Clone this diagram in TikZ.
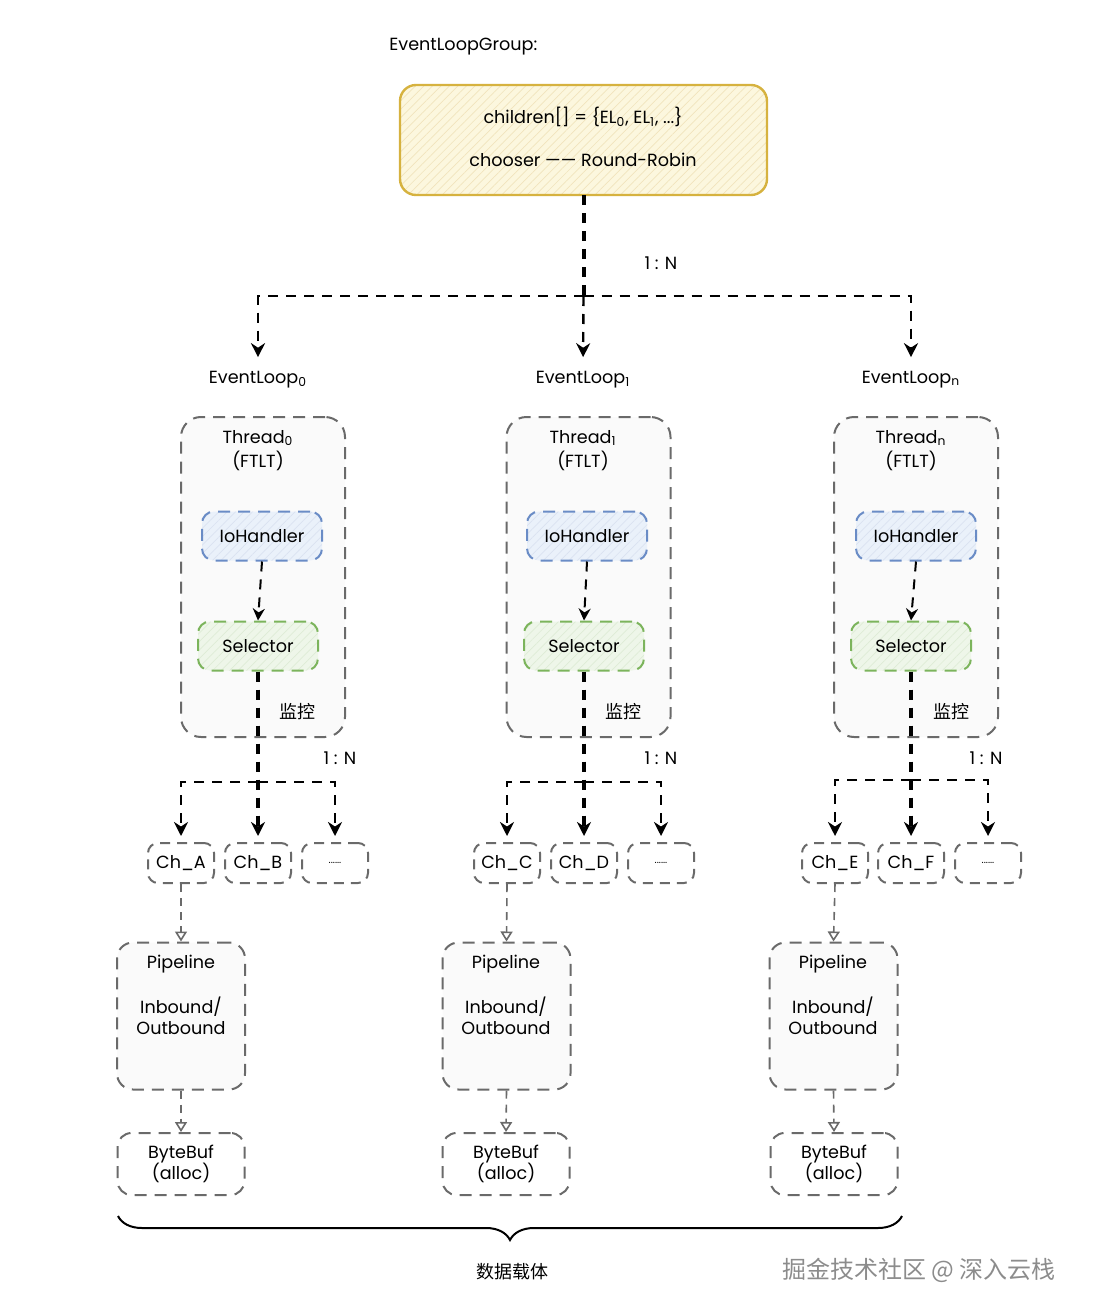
\documentclass[tikz,border=0pt]{standalone}
\usepackage{fontspec}
\setmainfont{Poppins}
\newfontfamily\cjk{Noto Sans CJK SC}
\usetikzlibrary{arrows.meta,decorations.pathreplacing,patterns.meta}

\definecolor{grpline}{HTML}{D6B23F}
\definecolor{grpfill}{HTML}{FCF7DE}
\definecolor{ioline}{HTML}{6A8CC6}
\definecolor{iofill}{HTML}{EAF1FA}
\definecolor{selline}{HTML}{7CB45C}
\definecolor{selfill}{HTML}{EEF6E9}
\definecolor{boxline}{HTML}{6A6A6A}

\tikzset{
  hatch/.style={pattern={Lines[angle=45,distance=3pt,line width=0.35pt]}, pattern color=#1},
  grpbox/.style={draw=grpline, line width=1.2pt, rounded corners=8pt, preaction={fill=grpfill}, hatch=grpline!35,
    minimum width=183.5pt, minimum height=55pt},
  threadbox/.style={draw=boxline, line width=1pt, dash pattern=on 6pt off 4pt, rounded corners=10pt,
    preaction={fill=black!2}, minimum width=82pt, minimum height=160pt},
  iobox/.style={draw=ioline, line width=1pt, dash pattern=on 6pt off 4pt, rounded corners=6pt,
    preaction={fill=iofill}, hatch=ioline!25, minimum width=60pt, minimum height=24.5pt},
  selbox/.style={draw=selline, line width=1pt, dash pattern=on 6pt off 4pt, rounded corners=6pt,
    preaction={fill=selfill}, hatch=selline!25, minimum width=60pt, minimum height=24.5pt},
  chbox/.style={draw=boxline, line width=1pt, dash pattern=on 5pt off 3.5pt, rounded corners=5pt,
    minimum width=33pt, minimum height=20pt},
  pipebox/.style={draw=boxline, line width=1pt, dash pattern=on 6pt off 4pt, rounded corners=8pt,
    preaction={fill=black!2}, minimum width=64pt, minimum height=73.5pt},
  bufbox/.style={draw=boxline, line width=1pt, dash pattern=on 6pt off 4pt, rounded corners=7pt,
    minimum width=63.5pt, minimum height=31pt},
  trunk/.style={draw=black, line width=2pt, dash pattern=on 5pt off 4pt, -{Stealth[length=7pt,width=7pt]}},
  trunkline/.style={draw=black, line width=2pt, dash pattern=on 5pt off 4pt},
  branch/.style={draw=black, line width=1.2pt, dash pattern=on 5pt off 4pt, -{Stealth[length=7pt,width=7pt]}},
  thinarr/.style={draw=black, line width=1pt, dash pattern=on 5pt off 4pt, -{Stealth[length=6pt,width=6pt]}},
  grayarr/.style={draw=boxline, line width=0.8pt, dash pattern=on 4pt off 3pt, -{Triangle[open,length=5pt,width=6pt]}},
  lbl/.style={inner sep=1pt},
  cjklbl/.style={inner sep=1pt, font=\cjk\fontsize{9}{11}\selectfont},
}

\begin{document}
\begin{tikzpicture}[x=0.5pt, y=-0.5pt, font=\fontsize{8.8}{10.5}\selectfont]
  \useasboundingbox (0,0) rectangle (1092,1316);

  % event loop group
  \node[lbl, anchor=west] (grptitle) at (387,47) {EventLoopGroup:};
  \node[grpbox] (grp) at (583.5,140) {};
  \node[lbl] (children) at (583,117) {children[] = \{EL\textsubscript{0}, EL\textsubscript{1}, ...\}};
  \node[lbl] (chooser) at (583,160) {chooser —— Round-Robin};

  % event loops
  \node[lbl] (el0) at (258,380) {EventLoop\textsubscript{0}};
  \node[lbl] (el1) at (583,380) {EventLoop\textsubscript{1}};
  \node[lbl] (eln) at (911,380) {EventLoop\textsubscript{n}};

  \coordinate (fork1) at (grp.south |- 0,296);
  \draw[trunkline] (grp.south) -- (fork1);
  \draw[branch, shorten >=6pt] (fork1) -- (el1.north);
  \draw[branch, shorten >=6pt] (fork1) -| (el0.north);
  \draw[branch, shorten >=6pt] (fork1) -| (eln.north);
  \node[lbl] (ratio1) at (661,263) {1 : N};

  % threads
  \node[threadbox] (th0) at (263,577) {};
  \node[threadbox] (th1) at (588.5,577) {};
  \node[threadbox] (thn) at (916,577) {};

  \node[lbl] (thname0) at (258,438) {Thread\textsubscript{0}};
  \node[lbl] (ftlt0) at (258,461) {(FTLT)};
  \node[lbl] (thname1) at (583,438) {Thread\textsubscript{1}};
  \node[lbl] (ftlt1) at (583,461) {(FTLT)};
  \node[lbl] (thnamen) at (911,438) {Thread\textsubscript{n}};
  \node[lbl] (ftltn) at (911,461) {(FTLT)};

  \node[iobox] (io0) at (262,536) {IoHandler};
  \node[iobox] (io1) at (587,536) {IoHandler};
  \node[iobox] (ion) at (916,536) {IoHandler};

  \node[selbox] (sel0) at (258,646) {Selector};
  \node[selbox] (sel1) at (584,646) {Selector};
  \node[selbox] (seln) at (911,646) {Selector};

  \draw[thinarr] (io0.south) -- (sel0.north);
  \draw[thinarr] (io1.south) -- (sel1.north);
  \draw[thinarr] (ion.south) -- (seln.north);

  \node[cjklbl] (watch0) at (297,712) {监控};
  \node[cjklbl] (watch1) at (623,712) {监控};
  \node[cjklbl] (watchn) at (951,712) {监控};

  % channels
  \node[chbox] (cha) at (181,863) {Ch\_A};
  \node[chbox] (chb) at (258,863) {Ch\_B};
  \node[chbox, font=\fontsize{5}{6}\selectfont] (chx0) at (335,863) {......};
  \node[chbox] (chc) at (507,863) {Ch\_C};
  \node[chbox] (chd) at (584,863) {Ch\_D};
  \node[chbox, font=\fontsize{5}{6}\selectfont] (chx1) at (661,863) {......};
  \node[chbox] (che) at (835,863) {Ch\_E};
  \node[chbox] (chf) at (911,863) {Ch\_F};
  \node[chbox, font=\fontsize{5}{6}\selectfont] (chxn) at (988,863) {......};

  \coordinate (fork2) at (258,782);
  \coordinate (fork3) at (584,782);
  \coordinate (fork4) at (911,780);
  \draw[trunk, shorten >=3pt] (sel0.south) -- (chb.north);
  \draw[branch, shorten >=3pt] (fork2) -| (cha.north);
  \draw[branch, shorten >=3pt] (fork2) -| (chx0.north);
  \draw[trunk, shorten >=3pt] (sel1.south) -- (chd.north);
  \draw[branch, shorten >=3pt] (fork3) -| (chc.north);
  \draw[branch, shorten >=3pt] (fork3) -| (chx1.north);
  \draw[trunk, shorten >=3pt] (seln.south) -- (chf.north);
  \draw[branch, shorten >=3pt] (fork4) -| (che.north);
  \draw[branch, shorten >=3pt] (fork4) -| (chxn.north);

  \node[lbl] (ratio2) at (340,758) {1 : N};
  \node[lbl] (ratio3) at (661,758) {1 : N};
  \node[lbl] (ratio4) at (986,758) {1 : N};

  % pipelines
  \node[pipebox] (pipe0) at (181,1016) {};
  \node[pipebox] (pipe1) at (506.5,1016) {};
  \node[pipebox] (pipen) at (833.5,1016) {};
  \node[lbl] (pname0) at (181,964) {Pipeline};
  \node[lbl, align=center] (bound0) at (181,1016) {Inbound/\\Outbound};
  \node[lbl] (pname1) at (506,964) {Pipeline};
  \node[lbl, align=center] (bound1) at (506,1016) {Inbound/\\Outbound};
  \node[lbl] (pnamen) at (833,964) {Pipeline};
  \node[lbl, align=center] (boundn) at (833,1016) {Inbound/\\Outbound};

  \node[bufbox, align=center] (buf0) at (181,1164) {ByteBuf\\(alloc)};
  \node[bufbox, align=center] (buf1) at (506,1164) {ByteBuf\\(alloc)};
  \node[bufbox, align=center] (bufn) at (834,1164) {ByteBuf\\(alloc)};

  \draw[grayarr] (cha.south) -- (pipe0.north);
  \draw[grayarr] (chc.south) -- (pipe1.north);
  \draw[grayarr] (che.south) -- (pipen.north);
  \draw[grayarr] (pipe0.south) -- (buf0.north);
  \draw[grayarr] (pipe1.south) -- (buf1.north);
  \draw[grayarr] (pipen.south) -- (bufn.north);

  % data carrier brace
  \coordinate (bracel) at (118,1216);
  \coordinate (bracer) at (902,1216);
  \draw[line width=1pt, decorate, decoration={brace, mirror, amplitude=12pt}] (bracel) -- (bracer);
  \node[cjklbl] (carrier) at (512,1272) {数据载体};

  \node[lbl, anchor=east, text=black!45, font=\cjk\fontsize{12}{14}\selectfont] (mark) at (1058,1270) {掘金技术社区 @ 深入云栈};
\end{tikzpicture}
\end{document}
